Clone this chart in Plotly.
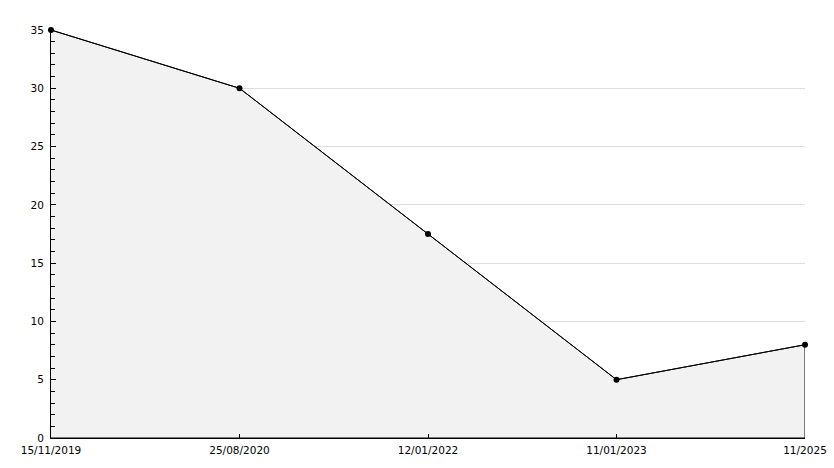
import plotly.graph_objects as go

dates = ["15/11/2019", "25/08/2020", "12/01/2022", "11/01/2023", "11/2025"]
values = [35, 30, 17.5, 5, 8]

pos = list(range(len(dates)))

fig = go.Figure()

# shaded area with its outline (closed down to the baseline)
fig.add_trace(go.Scatter(
    x=pos + [pos[-1], pos[0]],
    y=values + [0, 0],
    fill="toself",
    fillcolor="#f2f2f2",
    mode="lines",
    line=dict(color="black", width=1),
    hoverinfo="skip",
    showlegend=False,
    cliponaxis=False,
))

fig.add_trace(go.Scatter(
    x=pos,
    y=values,
    mode="lines+markers",
    line=dict(color="black", width=1),
    marker=dict(color="black", size=6, symbol="circle"),
    showlegend=False,
    cliponaxis=False,
))

fig.update_layout(
    width=834,
    height=468,
    margin=dict(l=51, r=29, t=30, b=30),
    paper_bgcolor="white",
    plot_bgcolor="white",
    font=dict(family="DejaVu Sans", size=10.5, color="black"),
    showlegend=False,
)

fig.update_xaxes(
    range=[0, 4],
    tickmode="array",
    tickvals=pos,
    ticktext=dates,
    ticks="inside",
    ticklen=4,
    tickcolor="black",
    showgrid=False,
    zeroline=False,
    showline=True,
    linecolor="black",
    linewidth=1,
    automargin=False,
    ticklabelstandoff=2,
)

fig.update_yaxes(
    range=[0, 35],
    dtick=5,
    ticks="inside",
    ticklen=5,
    tickcolor="black",
    showgrid=True,
    gridcolor="#dedede",
    gridwidth=1,
    zeroline=False,
    showline=True,
    linecolor="black",
    linewidth=1,
    ticklabelstandoff=4,
    automargin=False,
    minor=dict(dtick=1, ticks="inside", ticklen=4, tickcolor="black", showgrid=False),
)

# drop the page's default body margin so the figure sits at the window corner
fig.write_html(
    "out.html",
    config={"displayModeBar": False},
    post_script="document.body.style.margin='0';",
)
